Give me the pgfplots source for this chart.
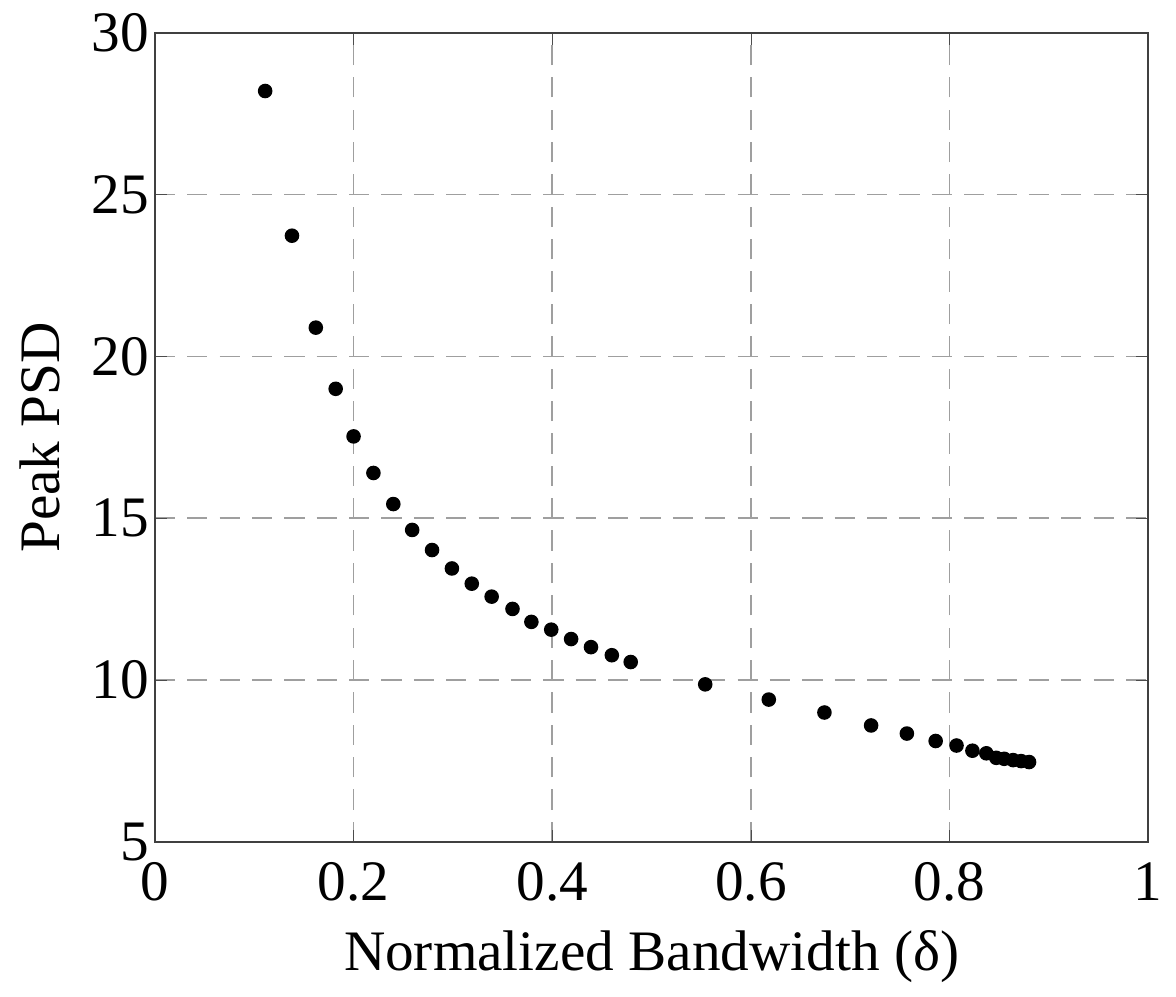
\documentclass[border=0pt]{standalone}
\usepackage{pgfplots}
\pgfplotsset{compat=1.18}
\usepackage{fontspec}
\setmainfont{Liberation Serif}
\begin{document}
\begin{tikzpicture}
\begin{axis}[
  scale only axis,
  width=245.5bp, height=200bp,
  xmin=0, xmax=1, ymin=5, ymax=30,
  xtick={0,0.2,0.4,0.6,0.8,1},
  xticklabels={0,0.2,0.4,0.6,0.8,1},
  ytick={5,10,15,20,25,30},
  /pgf/number format/assume math mode=true,
  tick label style={font=\fontsize{14.2}{17}\selectfont},
  label style={font=\fontsize{14.2}{17}\selectfont},
  yticklabel style={xshift=2bp},
  xticklabel style={yshift=-1.5bp},
  xlabel={Normalized Bandwidth (δ)},
  ylabel={Peak PSD},
  grid=major,
  major grid style={gray!75, dash pattern=on 5bp off 3bp, line width=0.4pt},
  axis line style={black!75, line width=0.5pt},
  tick align=inside,
  major tick length=3pt,
  tick style={black!70},
  xlabel style={yshift=-0.5bp},
  ylabel style={yshift=1bp},
]
\addplot[only marks, mark=*, mark size=1.6bp, black] coordinates {
(0.111,28.2) (0.138,23.73) (0.162,20.89) (0.182,19.0) (0.200,17.53)
(0.220,16.4) (0.240,15.44) (0.259,14.64) (0.279,14.02) (0.299,13.45)
(0.319,12.98) (0.339,12.58) (0.360,12.2) (0.379,11.8) (0.399,11.56)
(0.419,11.27) (0.439,11.02) (0.460,10.77) (0.479,10.56)
(0.554,9.87) (0.618,9.4) (0.674,9.0) (0.721,8.6) (0.757,8.35)
(0.786,8.12) (0.807,7.98) (0.823,7.82) (0.837,7.74) (0.847,7.6)
(0.855,7.57) (0.864,7.53) (0.872,7.50) (0.880,7.47)
};
\end{axis}
\path ([xshift=-1.5bp]current bounding box.west) -- (current bounding box.east);
\end{tikzpicture}
\end{document}
